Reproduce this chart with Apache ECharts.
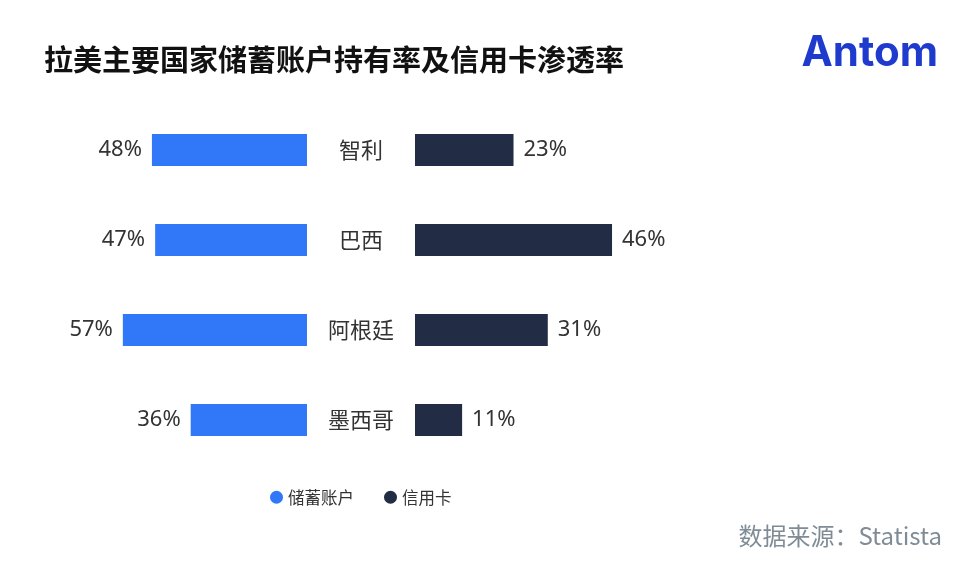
<!DOCTYPE html>
<html><head><meta charset="utf-8">
<script src="https://cdn.jsdelivr.net/npm/echarts@6/dist/echarts.min.js"></script>
<style>html,body{margin:0;padding:0;background:#fff}#c{width:962px;height:571px}</style>
</head><body><div id="c"></div>
<script>
const categories = ['智利', '巴西', '阿根廷', '墨西哥'];
const savings = [48, 47, 57, 36];
const credit = [23, 46, 31, 11];
const seriesNames = ['储蓄账户', '信用卡'];
const title = '拉美主要国家储蓄账户持有率及信用卡渗透率';
const source = '数据来源：Statista';

const FONT = '"Noto Sans CJK SC", "Noto Sans", sans-serif';
const NUMFONT = '"Noto Sans", "Noto Sans CJK SC", sans-serif';
const chart = echarts.init(document.getElementById('c'));
chart.setOption({
  backgroundColor: '#fff',
  animation: false,
  textStyle: { fontFamily: FONT },
  title: {
    text: title, left: 39, top: 40,
    textStyle: { fontSize: 29, fontWeight: 'bold', color: '#111', fontFamily: FONT }
  },
  legend: {
    data: seriesNames, left: 265, top: 484, icon: 'circle', itemWidth: 13, itemHeight: 13,
    itemGap: 30, textStyle: { fontSize: 16.5, color: '#333', fontFamily: FONT }
  },
  graphic: [
    { type: 'text', right: 24, top: 32, style: { text: 'Antom', fontSize: 42, fontWeight: 'bold', fill: '#1f3bce', fontFamily: '"Inter", "Noto Sans", sans-serif' } },
    { type: 'text', right: 20, top: 524, style: { text: source, fontSize: 24, fill: '#7f8c96', fontFamily: FONT } }
  ],
  grid: [
    { left: 97, width: 210, top: 105, height: 360 },
    { left: 415, width: 257, top: 105, height: 360 }
  ],
  xAxis: [
    { gridIndex: 0, type: 'value', min: 0, max: 65, inverse: true, show: false },
    { gridIndex: 1, type: 'value', min: 0, max: 60, show: false }
  ],
  yAxis: [
    { gridIndex: 0, type: 'category', data: categories, inverse: true, show: false },
    { gridIndex: 1, type: 'category', data: categories, inverse: true,
      axisLine: { show: false }, axisTick: { show: false },
      axisLabel: { show: true, align: 'center', margin: 54, fontSize: 22, color: '#333', fontFamily: FONT } }
  ],
  series: [
    { name: seriesNames[0], type: 'bar', xAxisIndex: 0, yAxisIndex: 0, data: savings, barWidth: 32,
      itemStyle: { color: '#3078f8' },
      label: { show: true, position: 'left', distance: 10, formatter: '{c}%', fontSize: 22, color: '#333', fontFamily: NUMFONT } },
    { name: seriesNames[1], type: 'bar', xAxisIndex: 1, yAxisIndex: 1, data: credit, barWidth: 32,
      itemStyle: { color: '#222c44' },
      label: { show: true, position: 'right', distance: 10, formatter: '{c}%', fontSize: 22, color: '#333', fontFamily: NUMFONT } }
  ]
});
</script></body></html>
